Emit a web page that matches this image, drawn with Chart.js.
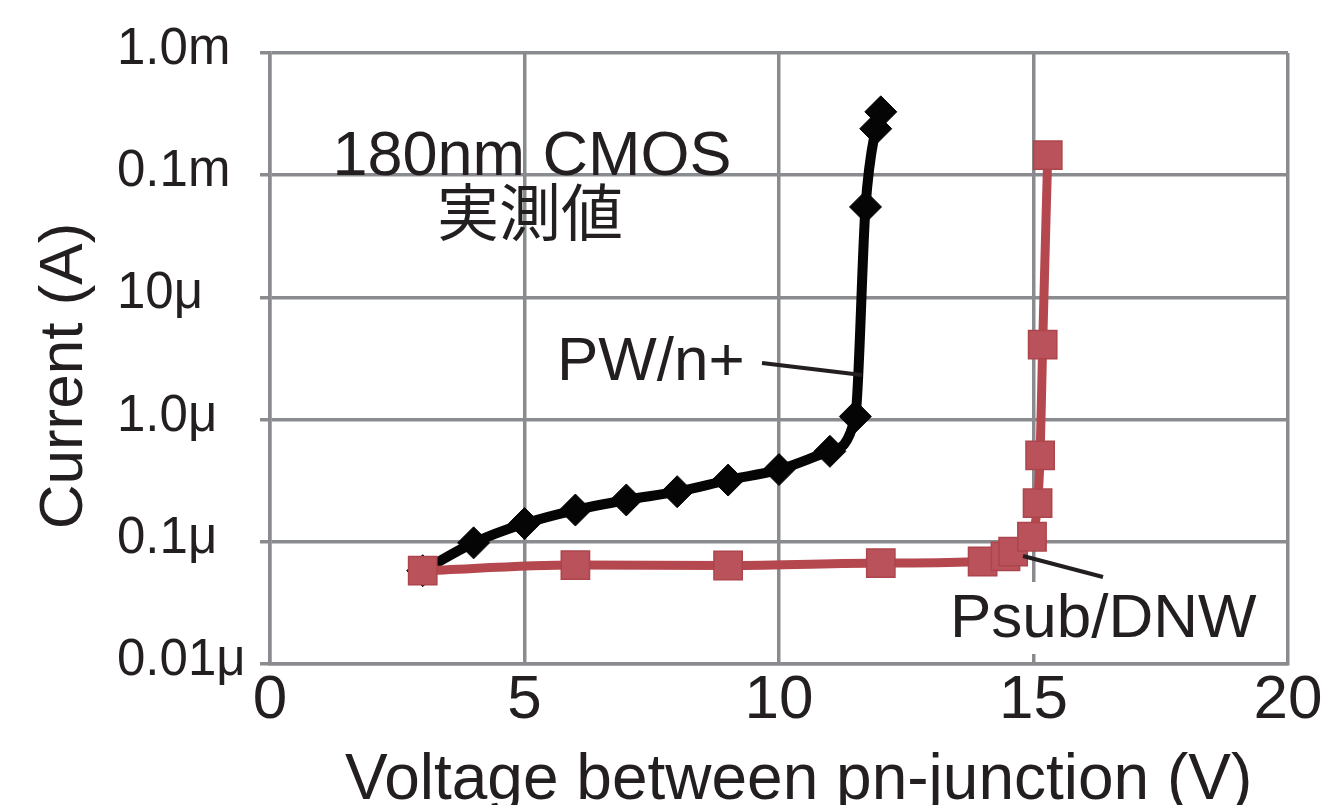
<!DOCTYPE html>
<html>
<head>
<meta charset="utf-8">
<script src="https://cdn.jsdelivr.net/npm/chart.js@4.4.1/dist/chart.umd.min.js"></script>
<style>
  html, body { margin: 0; padding: 0; background: #fff; overflow: hidden; }
  canvas { display: block; }
</style>
</head>
<body>
<canvas id="ivChart" width="1341" height="805"></canvas>
<script>
// PW/n+ junction (black diamonds)
var pwVoltage = [3, 4, 5, 6, 7, 8, 9, 10, 11, 11.5, 11.7, 11.9, 12.0];
var pwCurrent = [5.8e-8, 9.8e-8, 1.41e-7, 1.82e-7, 2.2e-7, 2.57e-7, 3.2e-7, 3.9e-7, 5.5e-7, 1.06e-6, 5.5e-5, 2.4e-4, 3.3e-4];

// Psub/DNW junction (red squares)
var psubVoltage = [3, 6, 9, 12, 14, 14.45, 14.6, 14.97, 15.08, 15.13, 15.18, 15.28];
var psubCurrent = [5.8e-8, 6.45e-8, 6.4e-8, 6.7e-8, 6.9e-8, 7.6e-8, 8.3e-8, 1.1e-7, 2.07e-7, 5.1e-7, 4.1e-6, 1.46e-4];

var yTickValues = [1e-8, 1e-7, 1e-6, 1e-5, 1e-4, 1e-3];
var yTickLabels = ["0.01\u03bc", "0.1\u03bc", "1.0\u03bc", "10\u03bc", "0.1m", "1.0m"];

var gridGray = "#8a8b8f";
var redLine = "#b5484e";
var redPoint = "#b9525a";
var fontFamily = "'Liberation Sans', Arial, Helvetica, sans-serif";

function toPoints(xs, ys) {
    return xs.map(function (x, i) { return { x: x, y: ys[i] }; });
}

// annotation texts, leader lines and axis titles
var labelsPlugin = {
    id: "labels",
    afterDatasetsDraw: function (chart) {
        var ctx = chart.ctx;
        ctx.save();
        ctx.textBaseline = "alphabetic";

        // white box behind Psub/DNW
        ctx.fillStyle = "#fff";
        ctx.fillRect(945, 582, 330, 72);
        ctx.fillStyle = "#231f20";

        ctx.font = "63px " + fontFamily;
        ctx.textAlign = "center";
        ctx.fillText("180nm CMOS", 532, 175);

        ctx.font = "62px 'Noto Sans CJK JP', sans-serif";
        ctx.textBaseline = "middle";
        ctx.fillText("\u5b9f\u6e2c\u5024", 530, 212);
        ctx.textBaseline = "alphabetic";

        ctx.textAlign = "left";
        ctx.font = "62px " + fontFamily;
        ctx.fillText("PW/n+", 557, 380);
        ctx.fillText("Psub/DNW", 950, 637);

        // leader lines
        ctx.strokeStyle = "#231f20";
        ctx.lineWidth = 4;
        ctx.beginPath();
        ctx.moveTo(762, 363);
        ctx.lineTo(862, 375);
        ctx.moveTo(1023, 556);
        ctx.lineTo(1103, 577);
        ctx.stroke();

        // axis titles
        ctx.font = "64px " + fontFamily;
        ctx.fillText("Voltage between pn-junction (V)", 345, 799);

        ctx.translate(82, 376);
        ctx.rotate(-Math.PI / 2);
        ctx.textAlign = "center";
        ctx.font = "62px " + fontFamily;
        ctx.fillText("Current (A)", 0, 0);
        ctx.restore();
    }
};

new Chart("ivChart", {
    type: "line",
    data: {
        datasets: [{
            label: "Psub/DNW",
            data: toPoints(psubVoltage, psubCurrent),
            borderColor: redLine,
            borderWidth: 9,
            backgroundColor: redPoint,
            pointStyle: "rect",
            pointRadius: 20,
            pointBorderWidth: 1.5,
            pointBorderColor: "#ad454c",
            pointBackgroundColor: redPoint,
            cubicInterpolationMode: "monotone",
            fill: false,
            order: 0
        }, {
            label: "PW/n+",
            data: toPoints(pwVoltage, pwCurrent),
            borderColor: "#050505",
            borderWidth: 10,
            backgroundColor: "#050505",
            pointStyle: "rectRot",
            pointRadius: 16,
            pointBorderWidth: 1,
            pointBorderColor: "#050505",
            pointBackgroundColor: "#050505",
            cubicInterpolationMode: "monotone",
            fill: false,
            order: 1
        }]
    },
    options: {
        responsive: false,
        animation: false,
        devicePixelRatio: 1,
        layout: {
            padding: { left: 117, top: 53, right: 53, bottom: 0 }
        },
        plugins: {
            legend: { display: false },
            tooltip: { enabled: false }
        },
        scales: {
            x: {
                type: "linear",
                min: 0,
                max: 20,
                afterFit: function (scale) { scale.height = 141; },
                grid: {
                    color: gridGray,
                    lineWidth: 3.5,
                    drawTicks: false
                },
                border: { color: gridGray, width: 3.5 },
                ticks: {
                    stepSize: 5,
                    padding: 0,
                    color: "#231f20",
                    font: { family: fontFamily, size: 62 }
                }
            },
            y: {
                type: "logarithmic",
                min: 1e-8,
                max: 1e-3,
                afterFit: function (scale) { scale.width = 153; },
                afterBuildTicks: function (scale) {
                    scale.ticks = yTickValues.map(function (v) { return { value: v }; });
                },
                grid: {
                    color: gridGray,
                    lineWidth: 3.5,
                    drawTicks: true,
                    tickLength: 10
                },
                border: { color: gridGray, width: 3.5 },
                ticks: {
                    crossAlign: "far",
                    labelOffset: -3,
                    color: "#231f20",
                    font: { family: fontFamily, size: 51 },
                    callback: function (value) {
                        var i = yTickValues.indexOf(value);
                        return i >= 0 ? yTickLabels[i] : "";
                    }
                }
            }
        }
    },
    plugins: [labelsPlugin]
});
</script>
</body>
</html>
